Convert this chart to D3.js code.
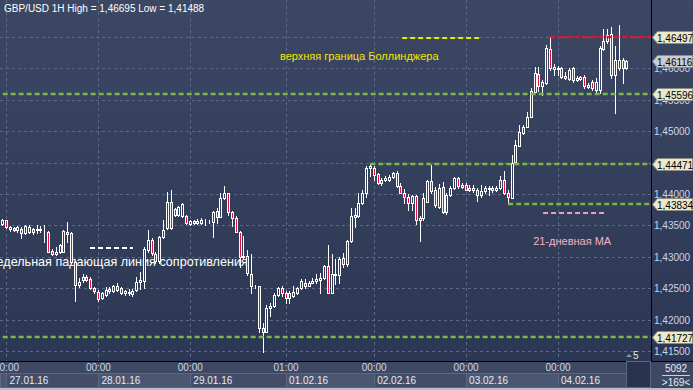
<!DOCTYPE html>
<html>
<head>
<meta charset="utf-8">
<script src="https://cdn.jsdelivr.net/npm/d3@7"></script>
<style>
  body { margin: 0; background: #2f3a56; }
  svg { display: block; font-family: "Liberation Sans", Arial, sans-serif; }
</style>
</head>
<body>
<svg id="chart"></svg>
<script>
// GBP/USD 1H, bar 0 = 26.01.16 23:00
var opens = [1.4353,1.4358,1.4344,1.4346,1.4343,1.4345,1.4338,1.4340,1.4344,1.4342,1.4342,1.4343,1.4340,1.4310,1.4304,1.4307,1.4308,1.4340,1.4338,1.4292,1.4255,1.4263,1.4268,1.4265,1.4250,1.4244,1.4234,1.4239,1.4245,1.4246,1.4254,1.4250,1.4242,1.4242,1.4240,1.4247,1.4260,1.4261,1.4311,1.4327,1.4305,1.4293,1.4332,1.4346,1.4387,1.4376,1.4367,1.4365,1.4365,1.4352,1.4354,1.4354,1.4354,1.4356,1.4355,1.4356,1.4373,1.4364,1.4393,1.4401,1.4372,1.4362,1.4340,1.4299,1.4301,1.4273,1.4253,1.4254,1.4186,1.4181,1.4218,1.4222,1.4239,1.4250,1.4243,1.4234,1.4237,1.4242,1.4250,1.4259,1.4254,1.4259,1.4261,1.4263,1.4266,1.4285,1.4243,1.4271,1.4271,1.4298,1.4289,1.4325,1.4363,1.4365,1.4385,1.4401,1.4441,1.4441,1.4432,1.4418,1.4423,1.4422,1.4427,1.4433,1.4413,1.4402,1.4395,1.4386,1.4397,1.4359,1.4361,1.4388,1.4421,1.4406,1.4380,1.4411,1.4371,1.4398,1.4409,1.4425,1.4411,1.4414,1.4406,1.4406,1.4406,1.4398,1.4404,1.4408,1.4410,1.4406,1.4409,1.4422,1.4401,1.4394,1.4451,1.4477,1.4497,1.4507,1.4523,1.4563,1.4591,1.4572,1.4576,1.4631,1.4599,1.4599,1.4600,1.4588,1.4583,1.4600,1.4582,1.4583,1.4587,1.4570,1.4578,1.4566,1.4566,1.4631,1.4643,1.4654,1.4590,1.4601,1.4613,1.4600]
var highs = [1.4360,1.4359,1.4349,1.4348,1.4349,1.4348,1.4351,1.4351,1.4346,1.4351,1.4349,1.4351,1.4341,1.4312,1.4316,1.4320,1.4343,1.4355,1.4340,1.4293,1.4266,1.4273,1.4271,1.4268,1.4252,1.4247,1.4244,1.4252,1.4252,1.4255,1.4258,1.4252,1.4247,1.4249,1.4249,1.4268,1.4276,1.4316,1.4343,1.4330,1.4308,1.4333,1.4359,1.4403,1.4406,1.4378,1.4381,1.4386,1.4367,1.4359,1.4359,1.4360,1.4362,1.4360,1.4359,1.4373,1.4378,1.4402,1.4413,1.4402,1.4373,1.4365,1.4341,1.4333,1.4311,1.4304,1.4255,1.4254,1.4194,1.4223,1.4227,1.4242,1.4252,1.4253,1.4246,1.4246,1.4253,1.4252,1.4265,1.4264,1.4261,1.4267,1.4273,1.4275,1.4287,1.4319,1.4304,1.4296,1.4300,1.4306,1.4327,1.4377,1.4378,1.4401,1.4406,1.4445,1.44471,1.4444,1.4433,1.4425,1.4429,1.4430,1.4435,1.4436,1.4418,1.4408,1.4400,1.4399,1.4399,1.4365,1.4402,1.4422,1.4446,1.4411,1.4416,1.4419,1.4402,1.4412,1.4427,1.4427,1.4418,1.4418,1.4414,1.4414,1.4410,1.4414,1.4413,1.4412,1.4413,1.4413,1.4428,1.4436,1.4406,1.4462,1.4486,1.4510,1.4510,1.4530,1.4568,1.4603,1.4603,1.4582,1.4637,1.46497,1.4607,1.4604,1.4603,1.4594,1.4601,1.4603,1.4588,1.4588,1.4589,1.4577,1.4582,1.4584,1.4635,1.4663,1.4663,1.4666,1.4635,1.46695,1.4616,1.4613]
var lows = [1.4351,1.4346,1.4341,1.4341,1.4340,1.4330,1.4336,1.4338,1.4336,1.4338,1.4340,1.4324,1.4307,1.4303,1.4303,1.4306,1.4307,1.4324,1.4290,1.4230,1.4252,1.4260,1.4261,1.4249,1.4242,1.4229,1.4233,1.4238,1.4242,1.4244,1.4246,1.4241,1.4239,1.4239,1.4238,1.4246,1.4249,1.4250,1.4308,1.4303,1.4290,1.4290,1.4330,1.4344,1.4344,1.4365,1.4365,1.4363,1.4352,1.4351,1.4352,1.4352,1.4352,1.4351,1.4354,1.4332,1.4354,1.4363,1.4392,1.4367,1.4349,1.4339,1.4284,1.4296,1.4271,1.4243,1.4251,1.4181,1.41488,1.4180,1.4205,1.4220,1.4238,1.4237,1.4227,1.4226,1.4236,1.4241,1.4249,1.4251,1.4253,1.4258,1.4258,1.4243,1.4265,1.4242,1.4242,1.4257,1.4258,1.4284,1.4285,1.4324,1.4348,1.4363,1.4384,1.4395,1.4429,1.4422,1.4416,1.4415,1.4421,1.4421,1.4425,1.4411,1.4401,1.4386,1.4375,1.4375,1.4352,1.4325,1.4359,1.4387,1.4402,1.4379,1.4378,1.4370,1.4368,1.4397,1.4408,1.4410,1.4410,1.4406,1.4404,1.4403,1.4389,1.4396,1.4402,1.4398,1.4403,1.4404,1.4408,1.4400,1.43834,1.4393,1.4449,1.4476,1.4496,1.4507,1.4523,1.4562,1.4564,1.4558,1.4575,1.4597,1.4590,1.4590,1.4584,1.4583,1.4582,1.4579,1.4580,1.4582,1.4568,1.4569,1.4566,1.4560,1.4561,1.4629,1.4640,1.4585,1.4529,1.4598,1.4576,1.4599]
var closes = [1.4358,1.4347,1.4348,1.4342,1.4348,1.4338,1.4349,1.4348,1.4339,1.4345,1.4344,1.4342,1.4308,1.4304,1.4308,1.4319,1.4341,1.4337,1.4292,1.4255,1.4260,1.4268,1.4263,1.4250,1.4245,1.4233,1.4242,1.4247,1.4248,1.4254,1.4247,1.4243,1.4245,1.4244,1.4246,1.4260,1.4263,1.4313,1.4327,1.4306,1.4293,1.4332,1.4343,1.4387,1.4346,1.4367,1.4379,1.4384,1.4354,1.4357,1.4357,1.4357,1.4358,1.4355,1.4356,1.4371,1.4364,1.4393,1.4401,1.4372,1.4362,1.4340,1.4299,1.4302,1.4274,1.4254,1.4254,1.4186,1.4181,1.4218,1.4222,1.4239,1.4250,1.4242,1.4234,1.4242,1.4244,1.4250,1.4261,1.4254,1.4259,1.4262,1.4264,1.4267,1.4285,1.4243,1.4273,1.4273,1.4297,1.4289,1.4325,1.4365,1.4366,1.4385,1.4402,1.4442,1.4444,1.4430,1.4418,1.4423,1.4425,1.4427,1.4433,1.4413,1.4402,1.4395,1.4386,1.4397,1.4359,1.4361,1.4394,1.4420,1.4404,1.4383,1.4410,1.4372,1.4398,1.4409,1.4425,1.4413,1.4414,1.4406,1.4410,1.4409,1.4398,1.4405,1.4409,1.4410,1.4406,1.4410,1.4423,1.4401,1.4395,1.4450,1.4478,1.4498,1.4507,1.4523,1.4564,1.4592,1.4572,1.4579,1.4632,1.4600,1.4603,1.4601,1.4587,1.4584,1.4597,1.4582,1.4585,1.4586,1.4572,1.4574,1.4568,1.4578,1.4632,1.4643,1.4653,1.4590,1.4613,1.4613,1.4600,1.46116]

// time axis
var tickBars = [1, 25, 49, 74, 97, 121, 145]
var tickTimes = ["00:00", "00:00", "00:00", "01:00", "00:00", "00:00", "00:00"]
var tickDates = ["27.01.16", "28.01.16", "29.01.16", "01.02.16", "02.02.16", "03.02.16", "04.02.16"]

// price axis
var priceTicks = [1.415, 1.42, 1.425, 1.43, 1.435, 1.44, 1.445, 1.45, 1.455, 1.46, 1.465]

// horizontal levels drawn on the chart
var levelPrices = [1.46497, 1.45596, 1.44471, 1.43834, 1.41727]
var levelFrom = [143, 0, 96, 132, 0]
var levelColors = ["#e8102c", "#7db646", "#7db646", "#7db646", "#7db646"]

// price tags on the right
var tagPrices = [1.46497, 1.46116, 1.45596, 1.44471, 1.43834, 1.41727]
var tagFills = ["#ebe8cc", "#c9ccd2", "#ebe8cc", "#ebe8cc", "#ebe8cc", "#ebe8cc"]

// annotations: short dashed marks (bar from, bar to, price)
var markFrom = [104.3, 22.8, 141.1]
var markTo = [124.6, 34.0, 157.0]
var markPrice = [1.46484, 1.43145, 1.43693]
var markColors = ["#f2e600", "#ffffff", "#eda3b6"]

var noteTexts = ["верхняя граница Боллинджера", "недельная падающая линия сопротивления", "21-дневная МА"]
var noteBars = [72.4, 64.0, 138.5]
var notePrices = [1.46134, 1.42853, 1.43188]
var noteAnchors = ["start", "end", "start"]
var noteSizes = [11, 12.6, 11]
var noteColors = ["#f2e600", "#ffffff", "#f4b3c5"]

var W = 693, H = 390
var plotR = 651, plotB = 361

var svg = d3.select('#chart').attr('width', W).attr('height', H)

var defs = svg.append('defs')
var grad = defs.append('linearGradient').attr('id', 'bg')
    .attr('gradientUnits', 'userSpaceOnUse')
    .attr('x1', 0).attr('y1', 0).attr('x2', 0).attr('y2', plotB)
grad.append('stop').attr('offset', 0).attr('stop-color', '#3c4763')
grad.append('stop').attr('offset', 1).attr('stop-color', '#2c3753')

defs.append('clipPath').attr('id', 'plotclip')
    .append('rect').attr('x', 0).attr('y', 0).attr('width', plotR).attr('height', plotB)

svg.append('rect').attr('x', 0).attr('y', 0).attr('width', W).attr('height', plotB)
    .attr('fill', 'url(#bg)')

var x = d3.scaleLinear().domain([0, 169]).range([2.67, 2.67 + 169 * 3.83])
var y = d3.scaleLinear().domain([1.415, 1.465]).range([351, 37])
var fmt = function (p) { return d3.format('.5f')(p).replace('.', ',') }

var plot = svg.append('g').attr('clip-path', 'url(#plotclip)')

// grid
plot.selectAll('.hgrid').data(priceTicks).enter().append('line')
    .attr('x1', 0).attr('x2', plotR)
    .attr('y1', d => Math.round(y(d)) + 0.5).attr('y2', d => Math.round(y(d)) + 0.5)
    .attr('stroke', '#5b6888').attr('stroke-dasharray', '3,3')
plot.selectAll('.vgrid').data(tickBars).enter().append('line')
    .attr('x1', d => Math.round(x(d)) + 0.5).attr('x2', d => Math.round(x(d)) + 0.5)
    .attr('y1', 0).attr('y2', plotB)
    .attr('stroke', '#5b6888').attr('stroke-dasharray', '3,3')

// notes
plot.selectAll('.note').data(noteTexts).enter().append('text')
    .attr('x', (d, i) => x(noteBars[i]))
    .attr('y', (d, i) => y(notePrices[i]))
    .attr('text-anchor', (d, i) => noteAnchors[i])
    .attr('fill', (d, i) => noteColors[i])
    .attr('font-size', (d, i) => noteSizes[i])
    .text(d => d)

// candles
var bars = d3.range(opens.length)
var cg = plot.selectAll('.candle').data(bars).enter().append('g')
cg.append('line')
    .attr('x1', d => Math.round(x(d) - 1.5) + 1.5)
    .attr('x2', d => Math.round(x(d) - 1.5) + 1.5)
    .attr('y1', d => Math.round(y(highs[d])))
    .attr('y2', d => Math.round(y(lows[d])) + 1)
    .attr('stroke', '#ffffff')
cg.append('rect')
    .attr('x', d => Math.round(x(d) - 1.5) + 0.5)
    .attr('width', 2)
    .attr('y', d => Math.round(y(Math.max(opens[d], closes[d]))) + 0.5)
    .attr('height', d => Math.max(0, Math.round(y(Math.min(opens[d], closes[d]))) - Math.round(y(Math.max(opens[d], closes[d])))))
    .attr('fill', d => closes[d] < opens[d] ? '#e3103e' : 'url(#bg)')
    .attr('stroke', '#ffffff')

// levels
plot.selectAll('.level').data(levelPrices).enter().append('line')
    .attr('x1', (d, i) => x(levelFrom[i]))
    .attr('x2', plotR)
    .attr('y1', d => Math.round(y(d)))
    .attr('y2', d => Math.round(y(d)))
    .attr('stroke', (d, i) => levelColors[i])
    .attr('stroke-width', 2.5)
    .attr('stroke-dasharray', '5,3')

plot.selectAll('.mark').data(markPrice).enter().append('line')
    .attr('x1', (d, i) => x(markFrom[i]))
    .attr('x2', (d, i) => x(markTo[i]))
    .attr('y1', d => Math.round(y(d)))
    .attr('y2', d => Math.round(y(d)))
    .attr('stroke', (d, i) => markColors[i])
    .attr('stroke-width', 2)
    .attr('stroke-dasharray', '5,3')

// header
svg.append('text').attr('x', 4).attr('y', 12)
    .attr('fill', '#ffffff').attr('font-size', 10)
    .text('GBP/USD 1H High = 1,46695 Low = 1,41488')

// right axis
svg.append('line').attr('x1', plotR + 0.5).attr('x2', plotR + 0.5)
    .attr('y1', 0).attr('y2', plotB).attr('stroke', '#000000')
svg.selectAll('.plabel').data(priceTicks).enter().append('text')
    .attr('x', 654).attr('y', d => y(d) + 4)
    .attr('fill', '#c9d6ec').attr('font-size', 10)
    .text(d => fmt(d))

var tags = svg.selectAll('.tag').data(tagPrices).enter().append('g')
    .attr('transform', d => 'translate(0,' + Math.round(y(d)) + ')')
tags.append('path')
    .attr('d', 'M652.5,0.5 L657.5,-5.5 L692.5,-5.5 L692.5,6.5 L657.5,6.5 Z')
    .attr('fill', (d, i) => tagFills[i])
    .attr('stroke', '#8c8c84')
tags.append('text').attr('x', 657).attr('y', 4.5)
    .attr('fill', '#000000').attr('font-size', 10)
    .text(d => fmt(d))

// bottom axis
svg.append('rect').attr('x', 0).attr('y', plotB).attr('width', W).attr('height', H - plotB)
    .attr('fill', '#3e4862')
svg.append('line').attr('x1', 0).attr('x2', W).attr('y1', plotB + 0.5).attr('y2', plotB + 0.5)
    .attr('stroke', '#000000')

var boxEdges = [0].concat(tickBars.map(d => Math.round(x(d)))).concat([626])
svg.selectAll('.dbox').data(d3.range(boxEdges.length - 1)).enter().append('rect')
    .attr('x', d => boxEdges[d] + 0.5).attr('y', 373.5)
    .attr('width', d => boxEdges[d + 1] - boxEdges[d]).attr('height', 14)
    .attr('fill', d => d % 2 ? '#434d67' : '#4b5671')
    .attr('stroke', '#5d6781')

svg.selectAll('.tlabel').data(tickBars).enter().append('text')
    .attr('x', d => x(d)).attr('y', 371)
    .attr('text-anchor', 'middle')
    .attr('fill', '#cbd6ea').attr('font-size', 10)
    .text((d, i) => tickTimes[i])
svg.selectAll('.dlabel').data(tickBars).enter().append('text')
    .attr('x', d => x(d) + 3).attr('y', 384)
    .attr('fill', '#e6ebf4').attr('font-size', 10)
    .text((d, i) => tickDates[i])

// scroll box, bar counters
svg.append('rect').attr('x', 626.5).attr('y', 361.5).attr('width', 24).attr('height', 26)
    .attr('fill', '#29334d').attr('stroke', '#5d6781')
svg.append('path').attr('d', 'M626,357 L629,354 L632,357 Z').attr('fill', '#8f98ad')
svg.append('text').attr('x', 633).attr('y', 359).attr('fill', '#e6ebf4').attr('font-size', 10).text('5')
svg.append('text').attr('x', 676).attr('y', 372).attr('text-anchor', 'middle')
    .attr('fill', '#e6ebf4').attr('font-size', 10).text('5092')
svg.append('line').attr('x1', 662).attr('x2', 690).attr('y1', 375.5).attr('y2', 375.5).attr('stroke', '#c9d1e0')
svg.append('text').attr('x', 676).attr('y', 386).attr('text-anchor', 'middle')
    .attr('fill', '#e6ebf4').attr('font-size', 10).text('>169<')
svg.append('rect').attr('x', 0).attr('y', 388).attr('width', W).attr('height', 2).attr('fill', '#b9bec8')
</script>
</body>
</html>
